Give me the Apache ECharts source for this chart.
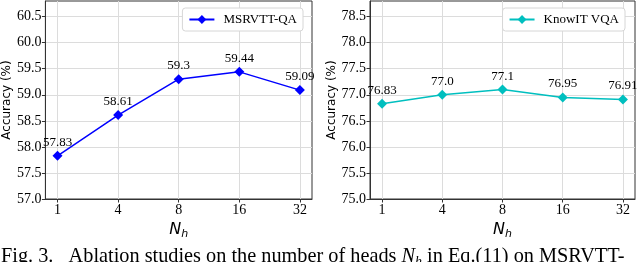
<!DOCTYPE html>
<html>
<head>
<meta charset="utf-8">
<script src="https://cdn.jsdelivr.net/npm/echarts@6/dist/echarts.min.js"></script>
<style>
html,body{margin:0;padding:0;background:#fff;}
#c{width:640px;height:262px;}
</style>
</head>
<body>
<div id="c"></div>
<script>
const categories = ['1', '4', '8', '16', '32'];
const msrvttValues = [57.83, 58.61, 59.3, 59.44, 59.09];
const msrvttLabels = ['57.83', '58.61', '59.3', '59.44', '59.09'];
const knowitValues = [76.83, 77.0, 77.1, 76.95, 76.91];
const knowitLabels = ['76.83', '77.0', '77.1', '76.95', '76.91'];
const leftYTicks = [57.0, 57.5, 58.0, 58.5, 59.0, 59.5, 60.0, 60.5];
const rightYTicks = [75.0, 75.5, 76.0, 76.5, 77.0, 77.5, 78.0, 78.5];

const serif = '"Liberation Serif", "Times New Roman", serif';
const sans = '"DejaVu Sans", sans-serif';
const idx = categories.map((_, i) => i);

function xAxisDef(gi) {
  return {
    type: 'value', gridIndex: gi, min: -0.2, max: 4.2,
    axisLine: { show: true, onZero: false, lineStyle: { color: '#333', width: 1 } },
    axisTick: { show: true, customValues: idx, length: 3.5, lineStyle: { color: '#333' } },
    axisLabel: { customValues: idx, formatter: v => categories[Math.round(v)], fontFamily: serif, fontSize: 14, color: '#000', margin: 4 },
    splitLine: { show: true, lineStyle: { color: '#dcdcdc', width: 1 } },
    name: '{n|N}{s|h}', nameLocation: 'middle', nameGap: 8,
    nameTextStyle: { rich: {
      n: { fontFamily: sans, fontStyle: 'italic', fontSize: 16, color: '#000' },
      s: { fontFamily: sans, fontStyle: 'italic', fontSize: 11, color: '#000', padding: [8, 0, 0, 0] }
    } }
  };
}
function yAxisDef(gi, ticks) {
  const step = ticks[1] - ticks[0];
  return {
    type: 'value', gridIndex: gi, min: ticks[0], max: ticks[ticks.length - 1] + 0.3, interval: step,
    axisLine: { show: true, onZero: false, lineStyle: { color: '#333', width: 1 } },
    axisTick: { show: true, customValues: ticks, length: 3.5, lineStyle: { color: '#333' } },
    axisLabel: { customValues: ticks, formatter: v => v.toFixed(1), fontFamily: serif, fontSize: 14, color: '#000', margin: 4 },
    splitLine: { show: true, lineStyle: { color: '#dcdcdc', width: 1 } },
    name: 'Accuracy (%)', nameLocation: 'middle', nameGap: 31,
    nameTextStyle: { fontFamily: sans, fontSize: 12, color: '#000' }
  };
}
function seriesDef(name, values, labels, color, gi) {
  return {
    type: 'line', name: name, xAxisIndex: gi, yAxisIndex: gi,
    data: values.map((v, i) => [i, v]),
    symbol: 'diamond', symbolSize: 10,
    lineStyle: { color: color, width: 1.5 }, itemStyle: { color: color },
    label: { show: true, position: 'top', distance: 2, fontFamily: serif, fontSize: 13, color: '#000',
      formatter: p => labels[p.dataIndex] },
    emphasis: { disabled: true }, animation: false, z: 5
  };
}
function legendDef(name, right) {
  return {
    data: [name], right: right, top: 8, orient: 'vertical',
    backgroundColor: '#fff', borderColor: '#d6d6d6', borderWidth: 1, borderRadius: 3,
    padding: [5, 6, 5, 6], itemWidth: 25, itemHeight: 11, itemGap: 0,
    textStyle: { fontFamily: serif, fontSize: 13, color: '#000', padding: [0, 0, 0, 4] }
  };
}

const chart = echarts.init(document.getElementById('c'), null, { renderer: 'canvas' });
chart.setOption({
  backgroundColor: '#fff',
  animation: false,
  grid: [
    { left: 45, top: 1, width: 267, height: 198, show: true, borderColor: '#333', borderWidth: 1, backgroundColor: 'transparent' },
    { left: 370, top: 1, width: 265, height: 198, show: true, borderColor: '#333', borderWidth: 1, backgroundColor: 'transparent' }
  ],
  xAxis: [xAxisDef(0), xAxisDef(1)],
  yAxis: [yAxisDef(0, leftYTicks), yAxisDef(1, rightYTicks)],
  legend: [legendDef('MSRVTT-QA', 337), legendDef('KnowIT VQA', 15)],
  series: [
    seriesDef('MSRVTT-QA', msrvttValues, msrvttLabels, '#0000ff', 0),
    seriesDef('KnowIT VQA', knowitValues, knowitLabels, '#00bfbf', 1)
  ],
  graphic: [{
    type: 'text', left: 1, top: 247,
    style: {
      text: 'Fig. 3.   Ablation studies on the number of heads {i|N}{s|h} in Eq.(11) on MSRVTT-',
      fontFamily: serif, fontSize: 20.3, fill: '#000',
      rich: {
        i: { fontFamily: serif, fontStyle: 'italic', fontSize: 20.3, fill: '#000' },
        s: { fontFamily: serif, fontStyle: 'italic', fontSize: 14, fill: '#000', padding: [10, 0, 0, 0] }
      }
    }
  }]
});
</script>
</body>
</html>
